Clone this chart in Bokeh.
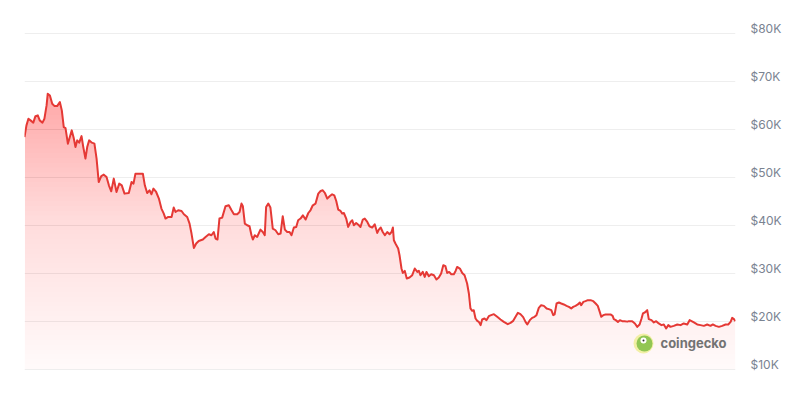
import numpy as np
import pandas as pd
from bokeh.plotting import figure
from bokeh.models import Range1d, FixedTicker, Label, BoxAnnotation
from bokeh.embed import file_html
from bokeh.resources import INLINE

# ---------------- data ----------------
start_date = "2021-10-27"
day_offsets = [
    0.0, 1.0, 2.0, 3.1, 4.5, 5.6, 6.8, 7.8, 9.2, 10.2, 11.3, 11.9, 13.0, 14.2, 15.4, 16.7, 18.1, 19.1, 20.1, 21.0,
    22.2, 23.2, 24.2, 25.2, 26.1, 27.0, 28.0, 29.2, 30.1, 31.2, 32.1, 33.1, 34.5, 35.8, 36.9, 38.0, 39.3, 40.6, 42.0, 43.2,
    44.4, 45.7, 47.1, 48.5, 49.8, 51.2, 53.4, 54.8, 55.8, 56.8, 58.5, 60.6, 61.6, 62.8, 64.0, 65.0, 66.0, 67.4, 68.8, 70.1,
    71.3, 72.2, 73.6, 75.3, 76.4, 77.3, 78.7, 80.4, 81.6, 83.3, 84.5, 85.5, 86.7, 87.9, 89.2, 91.3, 92.7, 94.4, 95.7, 96.9,
    97.8, 98.8, 99.8, 101.2, 102.9, 104.6, 106.0, 107.2, 108.9, 110.1, 111.1, 111.8, 112.8, 114.0, 115.2, 116.2, 116.9, 117.9, 119.1, 120.8,
    122.0, 123.0, 123.7, 124.8, 125.9, 127.1, 128.5, 129.9, 131.1, 132.2, 133.3, 134.5, 135.7, 136.7, 137.9, 139.1, 140.1, 141.3, 142.5, 143.9,
    145.3, 146.4, 147.6, 149.0, 150.4, 151.6, 152.7, 153.8, 155.0, 156.2, 157.5, 158.6, 159.6, 160.6, 161.8, 162.7, 163.5, 164.7, 165.7, 166.9,
    167.8, 168.6, 169.8, 171.2, 172.0, 173.2, 174.2, 175.5, 176.6, 178.0, 179.3, 180.6, 181.4, 182.4, 183.4, 184.5, 185.7, 186.9, 187.9, 188.6,
    189.1, 189.9, 191.3, 192.0, 193.0, 193.7, 194.7, 195.7, 197.1, 198.5, 199.8, 201.1, 201.9, 202.7, 203.9, 204.9, 205.8, 207.0, 208.2, 209.6,
    210.9, 212.1, 213.3, 214.4, 215.5, 216.4, 217.4, 218.5, 219.8, 220.7, 221.5, 222.9, 224.1, 225.3, 226.6, 227.5, 228.3, 229.2, 230.0, 230.9,
    231.8, 232.6, 233.5, 234.3, 235.5, 236.5, 237.7, 238.9, 240.3, 242.0, 243.7, 245.4, 247.4, 248.8, 250.2, 251.4, 252.6, 253.9, 255.3, 256.5,
    257.4, 258.7, 259.9, 261.1, 262.1, 263.3, 264.5, 265.9, 267.3, 268.4, 269.7, 270.7, 271.4, 272.4, 273.6, 274.8, 276.1, 277.5, 278.7, 279.9,
    280.9, 282.1, 283.3, 284.3, 285.0, 286.1, 287.2, 288.4, 289.8, 291.2, 292.4, 293.5, 294.5, 295.3, 296.3, 297.5, 298.6, 300.0, 301.1, 301.7,
    302.7, 303.8, 304.8, 306.0, 307.2, 308.6, 309.4, 311.1, 312.5, 313.7, 314.9, 315.9, 316.6, 317.6, 318.8, 319.6, 321.0, 322.2, 323.4, 324.7,
    326.1, 327.3, 328.5, 329.6, 330.7, 332.4, 334.2, 335.9, 337.5, 339.3, 340.5, 341.5, 342.7, 344.4, 346.1, 347.8, 349.5, 351.2, 352.4, 353.8,
    355.5, 357.2, 358.9, 360.3, 361.5, 362.3, 363.2, 364.0,
]
prices = [
    58400, 60830, 62230, 61880, 61400, 62770, 62920, 61880, 61400, 62230, 65000, 67440, 67080, 65350, 64850, 64850, 65690, 63960, 60480, 60270,
    57020, 58400, 59790, 58190, 56310, 57710, 57230, 58600, 56310, 53900, 56310, 57710, 57230, 57020, 53900, 49020, 50270, 50560, 50060, 48330,
    47080, 49730, 46940, 48690, 48330, 46600, 46730, 49020, 48690, 50770, 50770, 50770, 48330, 46730, 47290, 46460, 47650, 46940, 45560, 43480,
    42440, 41400, 41730, 41730, 43690, 42770, 43130, 42980, 42290, 41730, 40350, 38270, 35270, 36190, 36730, 37020, 37560, 38130, 37920, 38600,
    37230, 37020, 41400, 41600, 43960, 44170, 43130, 42290, 42290, 42770, 44520, 43960, 40350, 40000, 39790, 37920, 37020, 37920, 37560, 39100,
    38600, 37920, 43810, 44520, 43690, 39310, 38960, 38130, 38270, 41880, 39100, 38600, 38600, 37920, 39520, 39650, 41040, 41400, 42080, 41190,
    42560, 43130, 44170, 44520, 46600, 47150, 47290, 46730, 45560, 46040, 46460, 46250, 45060, 43270, 42980, 42440, 42560, 41400, 39650, 40690,
    41040, 40000, 40480, 40000, 39650, 41190, 41400, 40690, 39790, 39520, 40210, 38400, 39100, 39520, 38600, 37920, 38600, 38130, 38600, 39520,
    36880, 36190, 35150, 33750, 30980, 30060, 30480, 28900, 29100, 29580, 30980, 30270, 30480, 29580, 30270, 29230, 30270, 29380, 29790, 29580,
    28690, 29100, 29940, 31670, 31460, 30060, 30270, 29790, 29790, 30480, 31310, 30980, 30060, 29580, 27850, 25770, 22650, 22150, 22290, 20560,
    20060, 19850, 19170, 20350, 20560, 20210, 21040, 21250, 21460, 20900, 20350, 19850, 19380, 19650, 20060, 20900, 21730, 21460, 20830, 19850,
    19310, 20210, 20690, 20900, 21250, 22770, 23330, 23190, 22650, 22500, 22290, 21250, 21400, 23690, 23900, 23690, 23480, 23190, 22980, 22650,
    22980, 23190, 23480, 23900, 23330, 24020, 24170, 24380, 24380, 24170, 23690, 23190, 21940, 20900, 21250, 21400, 21400, 21400, 21100, 20420,
    20210, 19850, 20210, 20000, 20000, 19900, 20000, 20000, 19520, 18810, 19310, 20560, 21600, 21810, 22290, 20420, 20210, 19730, 20000, 19520,
    19170, 19310, 18480, 19170, 18810, 19020, 19310, 19170, 19520, 19310, 20210, 20000, 19730, 19310, 19170, 19020, 19310, 19020, 19310, 19020,
    18810, 19020, 19310, 19310, 19850, 20690, 20420, 20000,
]
tick_values = [10000, 20000, 30000, 40000, 50000, 60000, 70000, 80000]
tick_labels = ["$10K", "$20K", "$30K", "$40K", "$50K", "$60K", "$70K", "$80K"]
watermark_text = "coingecko"

# ---------------- figure ----------------
dates = pd.to_datetime(start_date) + pd.to_timedelta(day_offsets, unit="D")
price = np.array(prices, dtype=float)
xs = (dates.astype("int64") // 10**6).to_numpy().astype(float)  # ms since epoch

p = figure(width=787, height=404, output_backend="svg", toolbar_location=None,
           x_axis_type="datetime", x_axis_location=None, y_axis_location="right",
           x_range=Range1d(xs[0], xs[-1]), y_range=Range1d(9500, 82500),
           min_border_left=24, min_border_right=52, min_border_top=21, min_border_bottom=33,
           background_fill_color="white", border_fill_color="white")
p.outline_line_color = None
p.xgrid.visible = False
p.ygrid.ticker = FixedTicker(ticks=tick_values)
p.ygrid.grid_line_color = "#eeeeee"
p.ygrid.grid_line_width = 1

yax = p.yaxis[0]
yax.ticker = FixedTicker(ticks=[v + 1000 for v in tick_values])  # lift labels slightly above gridlines
yax.major_label_overrides = {v + 1000: lab for v, lab in zip(tick_values, tick_labels)}
yax.axis_line_color = None
yax.major_tick_line_color = None
yax.minor_tick_line_color = None
yax.major_tick_out = 0
yax.major_tick_in = 0
yax.minor_tick_out = 0
yax.major_label_standoff = 15
yax.major_label_text_font = "Inter"
yax.major_label_text_font_size = "12px"
yax.major_label_text_color = "#7a8391"

# ---------------- gradient area fill (stacked translucent layers) ----------------
base = tick_values[0]
top = price.max()
fill_color = "#ff3d3d"
a_lo, a_hi = 0.02, 0.30
prev = 0.0
for lo in np.arange(base, top, 1000.0):
    mid = lo + 500.0
    A = a_lo + (a_hi - a_lo) * (mid - base) / (top - base)
    alpha = 1.0 - (1.0 - A) / (1.0 - prev)
    prev = A
    px, py = [], []
    for i in range(len(xs)):
        if i > 0 and (price[i - 1] - lo) * (price[i] - lo) < 0:
            t = (lo - price[i - 1]) / (price[i] - price[i - 1])
            px.append(xs[i - 1] + t * (xs[i] - xs[i - 1]))
            py.append(lo)
        px.append(xs[i])
        py.append(max(price[i], lo))
    p.varea(x=px, y1=[lo] * len(px), y2=py, fill_color=fill_color, fill_alpha=alpha)

p.line(xs, price, line_color="#e53935", line_width=2, line_join="round")

# ---------------- watermark ----------------
def screen_box(l, r, b, t, **kw):
    return BoxAnnotation(left=l, right=r, bottom=b, top=t,
                         left_units="screen", right_units="screen",
                         bottom_units="screen", top_units="screen",
                         line_color=None, **kw)

p.add_layout(screen_box(609, 629, 18, 38, fill_color="#f1ee9c", fill_alpha=0.9, border_radius=10))
p.add_layout(screen_box(612, 628, 20, 36, fill_color="#8cc34f", fill_alpha=0.95, border_radius=8))
p.add_layout(screen_box(616, 622, 28, 34, fill_color="white", fill_alpha=1.0, border_radius=3))
p.add_layout(screen_box(618, 620, 30, 32, fill_color="#333333", fill_alpha=1.0, border_radius=1))
p.add_layout(Label(x=636, y=29, x_units="screen", y_units="screen", text=watermark_text,
                   text_font="Inter", text_font_size="13px", text_font_style="bold",
                   text_color="#737373", text_baseline="middle", text_align="left"))

open("out.html", "w").write(file_html(p, INLINE))
